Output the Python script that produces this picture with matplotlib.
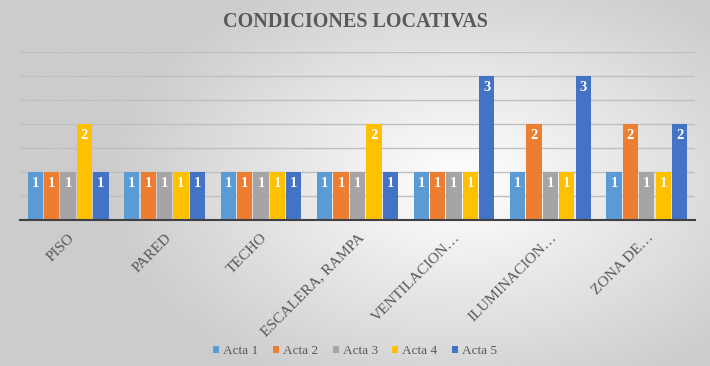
import numpy as np
import matplotlib
matplotlib.use('Agg')
import matplotlib.pyplot as plt

categorias = ['PISO', 'PARED', 'TECHO', 'ESCALERA, RAMPA', 'VENTILACION…',
              'ILUMINACION…', 'ZONA DE…']
series = ['Acta 1', 'Acta 2', 'Acta 3', 'Acta 4', 'Acta 5']
acta1 = [1, 1, 1, 1, 1, 1, 1]
acta2 = [1, 1, 1, 1, 1, 2, 2]
acta3 = [1, 1, 1, 1, 1, 1, 1]
acta4 = [2, 1, 1, 2, 1, 1, 1]
acta5 = [1, 1, 1, 1, 3, 3, 2]
valores = [acta1, acta2, acta3, acta4, acta5]

colores = ['#5B9BD5', '#ED7D31', '#A5A5A5', '#FFC000', '#4472C4']

plt.rcParams['font.family'] = ['Liberation Serif', 'DejaVu Serif']

fig = plt.figure(figsize=(7.1, 3.66), dpi=100)

# fondo degradado
bg = fig.add_axes([0, 0, 1, 1], zorder=-10)
yy, xx = np.mgrid[0:1:200j, 0:1:400j]
d = np.sqrt(((xx - 0.65) * 1.0) ** 2 + ((yy - 0.5) * 0.8) ** 2)
g = np.clip(1.0 - 0.4 * d, 0.8, 1.0)
bg.imshow(g, cmap='gray', vmin=0, vmax=1, extent=[0, 1, 0, 1], aspect='auto')
bg.axis('off')

ax = fig.add_axes([0.028, 0.399, 0.951, 0.459])
ax.patch.set_alpha(0)

n = len(series)
w = 0.17
x = np.arange(len(categorias))
for i, (vals, c) in enumerate(zip(valores, colores)):
    pos = x + (i - (n - 1) / 2) * w
    bars = ax.bar(pos, vals, w * 0.93, color=c, label=series[i], zorder=3)
    for b, v in zip(bars, vals):
        ax.text(b.get_x() + b.get_width() / 2, v - 0.11, str(v), ha='center',
                va='top', color='white', fontsize=10.5, fontweight='bold', zorder=4)

ax.set_ylim(0, 3.5)
ax.set_xlim(-0.5, len(categorias) - 0.5)
ax.set_yticks(np.arange(0, 3.51, 0.5))
ax.yaxis.grid(True, color='#BFBFBF', linewidth=1, zorder=0)
ax.tick_params(axis='y', left=False, labelleft=False)
ax.tick_params(axis='x', length=0, pad=8)
for s in ['top', 'right', 'left']:
    ax.spines[s].set_visible(False)
ax.spines['bottom'].set_color('#404040')
ax.spines['bottom'].set_linewidth(1.5)
ax.spines['bottom'].set_zorder(5)

ax.set_xticks(x)
ax.set_xticklabels(categorias, rotation=45, ha='right', rotation_mode='anchor',
                   fontsize=11, color='#595959')

fig.text(0.5, 0.94, 'CONDICIONES LOCATIVAS', ha='center', va='center',
         fontsize=14.5, fontweight='bold', color='#595959')

fig.legend(loc='center', bbox_to_anchor=(0.5, 0.04), ncol=5, frameon=False,
           fontsize=9.5, handlelength=0.45, handleheight=0.45, columnspacing=1.1,
           handletextpad=0.3, labelcolor='#595959')

fig.savefig('out.png', dpi=100)
